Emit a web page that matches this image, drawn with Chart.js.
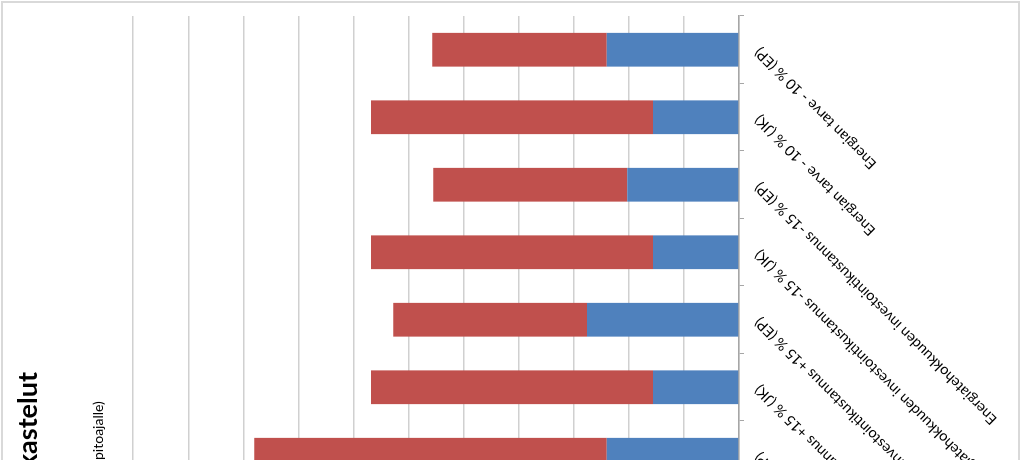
<!DOCTYPE html>
<html>
<head>
<meta charset="utf-8">
<script src="https://cdn.jsdelivr.net/npm/chart.js@4.4.0/dist/chart.umd.min.js"></script>
<style>
  html, body { margin: 0; padding: 0; background: #fff; }
  body { width: 1024px; height: 460px; overflow: hidden; position: relative; }
  #wrap { position: absolute; left: 0; top: 0; transform-origin: 0 0; }
  #frame { position: absolute; left: 1px; top: 1px; width: 1019px; height: 600px;
           border: 2px solid #d9d9d9; box-sizing: border-box; pointer-events: none; }
</style>
</head>
<body>
<div id="wrap"><canvas id="chart"></canvas></div>
<div id="frame"></div>
<script>
// categories in chart order (the page is turned on its side, first one is at the bottom)
const categories = [
    'Laskentakorko +1 % (EP)',
    'Energiatehokkuuden investointikustannus +15 % (JK)',
    'Energiatehokkuuden investointikustannus +15 % (EP)',
    'Energiatehokkuuden investointikustannus -15 % (JK)',
    'Energiatehokkuuden investointikustannus -15 % (EP)',
    'Energian tarve - 10 % (JK)',
    'Energian tarve - 10 % (EP)'
];
const blueValues = [2.40, 1.56, 2.76, 1.56, 2.03, 1.56, 2.40];
const redValues = [6.40, 5.12, 3.52, 5.12, 3.52, 5.12, 3.17];
const valueMax = 11;
const valueStep = 1;

const titleText = 'Herkkyystarkastelut';
const subtitleText = '(koko 30 vuoden ylläpitoajalle)';

const blue = '#4f81bd';
const red = '#c0504d';
const gridColor = '#d0d0d0';

// width of the unturned chart, so the centred title lands where it should
const mctx = document.createElement('canvas').getContext('2d');
mctx.font = 'bold 27px Lato';
const tw = mctx.measureText(titleText).width;
const W = Math.round(728 + tw);
const H = 1024;
const catWidth = 67.5;

const canvas = document.getElementById('chart');
canvas.width = W;
canvas.height = H;
canvas.style.width = W + 'px';
canvas.style.height = H + 'px';
const wrap = document.getElementById('wrap');
wrap.style.width = W + 'px';
wrap.style.height = H + 'px';
wrap.style.transform = 'translate(0px,' + W + 'px) rotate(-90deg)';

// eslint-disable-next-line no-undef
new Chart(canvas, {
    type: 'bar',
    data: {
        labels: categories,
        datasets: [{
            label: 'Sarja 1',
            data: blueValues,
            backgroundColor: blue,
            categoryPercentage: 1,
            barPercentage: 0.5
        }, {
            label: 'Sarja 2',
            data: redValues,
            backgroundColor: red,
            categoryPercentage: 1,
            barPercentage: 0.5
        }]
    },
    options: {
        responsive: false,
        animation: false,
        devicePixelRatio: 1,
        layout: {
            padding: {left: 0, right: 16, top: 0, bottom: 0}
        },
        plugins: {
            legend: {display: false},
            tooltip: {enabled: false},
            title: {
                display: true,
                text: titleText,
                color: '#000',
                font: {family: 'Lato', size: 27, weight: 'bold'},
                padding: {top: 12, bottom: 46}
            },
            subtitle: {
                display: true,
                text: subtitleText,
                color: '#000',
                font: {family: 'Lato', size: 14},
                padding: {top: 0, bottom: 26}
            }
        },
        scales: {
            x: {
                stacked: true,
                offset: true,
                grid: {
                    display: true,
                    offset: true,
                    drawOnChartArea: false,
                    tickLength: 5,
                    color: '#a6a6a6'
                },
                border: {color: '#a6a6a6', width: 1.5},
                ticks: {
                    color: '#000',
                    font: {family: 'Lato', size: 14.5},
                    minRotation: 45,
                    maxRotation: 45,
                    autoSkip: false,
                    padding: 7
                },
                afterFit: (s) => { s.height = H - 739; }
            },
            y: {
                stacked: true,
                min: 0,
                max: valueMax,
                grid: {color: gridColor, lineWidth: 1.5, drawTicks: false},
                border: {display: false},
                ticks: {
                    stepSize: valueStep,
                    color: '#000',
                    font: {family: 'Lato', size: 13}
                },
                afterFit: (s) => { s.width = W - 16 - categories.length * catWidth; }
            }
        }
    }
});
</script>
</body>
</html>
